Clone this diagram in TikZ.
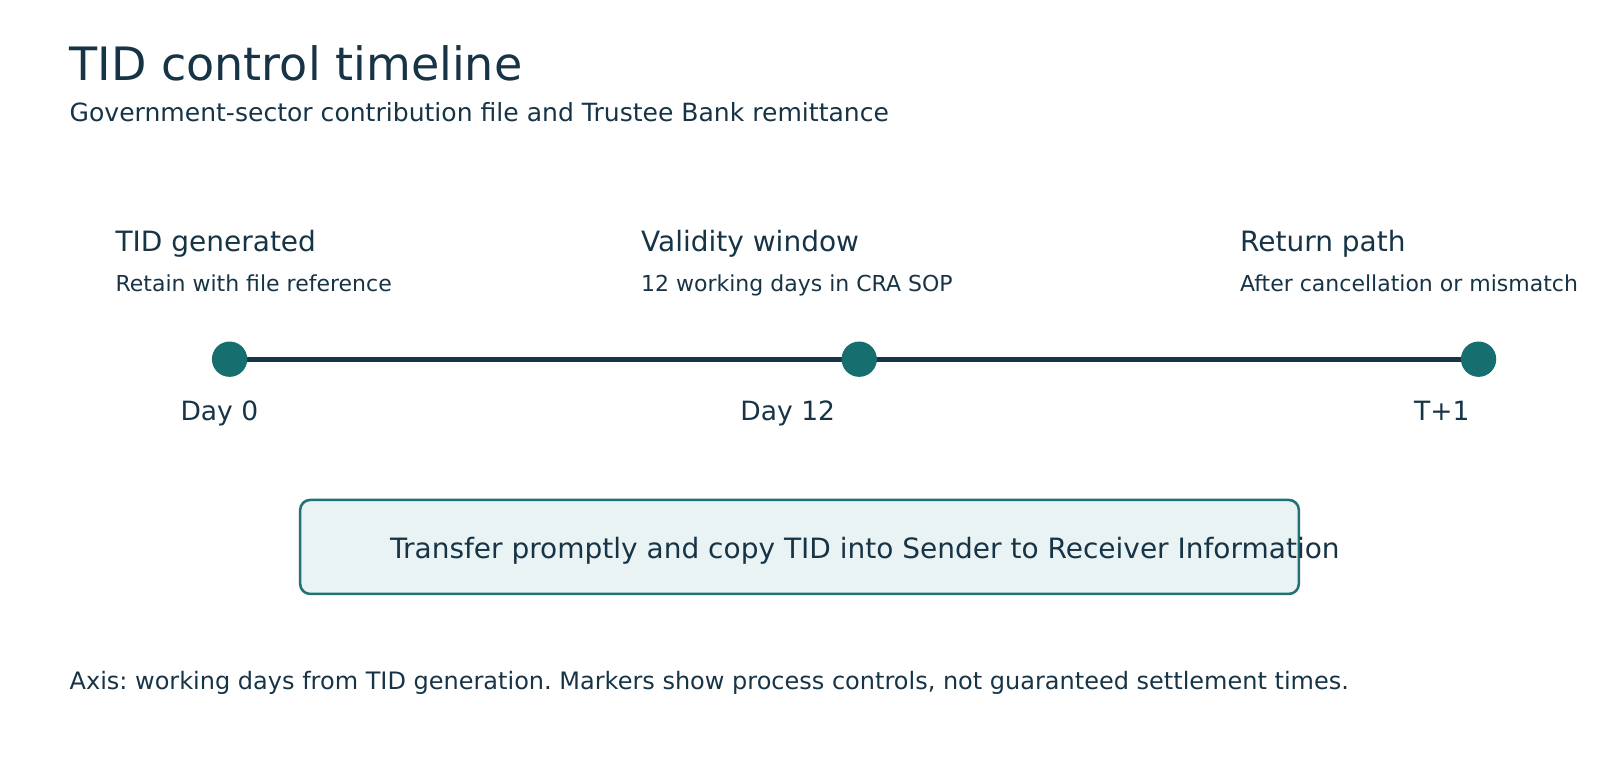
\documentclass[tikz,border=0pt]{standalone}
\usepackage{fontspec}
\setmainfont{DejaVu Sans}
\usetikzlibrary{positioning}
\definecolor{inkblue}{HTML}{173447}
\definecolor{tealdot}{HTML}{176E6E}
\definecolor{tealline}{HTML}{1F7373}
\definecolor{palefill}{HTML}{EAF3F4}
\tikzset{
  title/.style={
    anchor=base west,
    inner sep=0pt,
    text=inkblue,
    font=\fontsize{34.5}{38}\selectfont
  },
  subtitle/.style={
    anchor=base west,
    inner sep=0pt,
    text=inkblue,
    font=\fontsize{18.8}{22}\selectfont
  },
  heading/.style={
    anchor=base west,
    inner sep=0pt,
    text=inkblue,
    font=\fontsize{21}{24}\selectfont
  },
  detail/.style={
    anchor=base west,
    inner sep=0pt,
    text=inkblue,
    font=\fontsize{16.5}{19}\selectfont
  },
  daylabel/.style={
    anchor=base,
    inner sep=0pt,
    text=inkblue,
    font=\fontsize{19.9}{23}\selectfont
  },
  marker/.style={
    circle,
    fill=tealdot,
    minimum size=26.5pt,
    inner sep=0pt
  },
  notebox/.style={
    draw=tealline,
    fill=palefill,
    line width=1.9pt,
    rounded corners=7.5pt,
    minimum width=749pt,
    minimum height=70.5pt
  },
  axis/.style={draw=inkblue, line width=3.8pt}
}
\begin{document}
\frenchspacing
\begin{tikzpicture}[x=0.765306pt, y=-0.765306pt]
    \useasboundingbox (0,0) rectangle (1568,764.4);
    \node (title) [title] at (68,79) {TID control timeline};
    \node (subtitle) [subtitle] at (68,119) {Government-sector contribution file and Trustee Bank remittance};
    % axis first, markers on top
    \coordinate (p0) at (225,352);
    \coordinate (p12) at (842,352);
    \coordinate (pT) at (1449,352);
    \draw [axis] (p0) -- (p12) -- (pT);
    \node (day0) [marker] at (p0) {};
    \node (day12) [marker] at (p12) {};
    \node (tplus) [marker] at (pT) {};
    \node (gen) [heading] at (113,246) {TID generated};
    \node (genNote) [detail] at (113,286) {Retain with file reference};
    \node (valid) [heading] at (628,246) {Validity window};
    \node (validNote) [detail] at (628,286) {12 working days in CRA SOP};
    \node (ret) [heading] at (1215,246) {Return path};
    \node (retNote) [detail] at (1215,286) {After cancellation or mismatch};
    \node (lab0) [daylabel] at (215,412) {Day 0};
    \node (lab12) [daylabel] at (772,412) {Day 12};
    \node (labT) [daylabel] at (1413,412) {T+1};
    % note box, text runs past its right edge
    \node (box) [notebox] at (783.5,536) {};
    \node (boxText) [anchor=base west, inner sep=0pt, text=inkblue,
      font=\fontsize{21}{24}\selectfont] at (382,547)
      {Transfer promptly and copy TID into Sender to Receiver Information};
    \node (footer) [detail, font=\fontsize{18}{21}\selectfont] at (68,676)
      {Axis: working days from TID generation. Markers show process controls, not guaranteed settlement times.};
\end{tikzpicture}
\end{document}
